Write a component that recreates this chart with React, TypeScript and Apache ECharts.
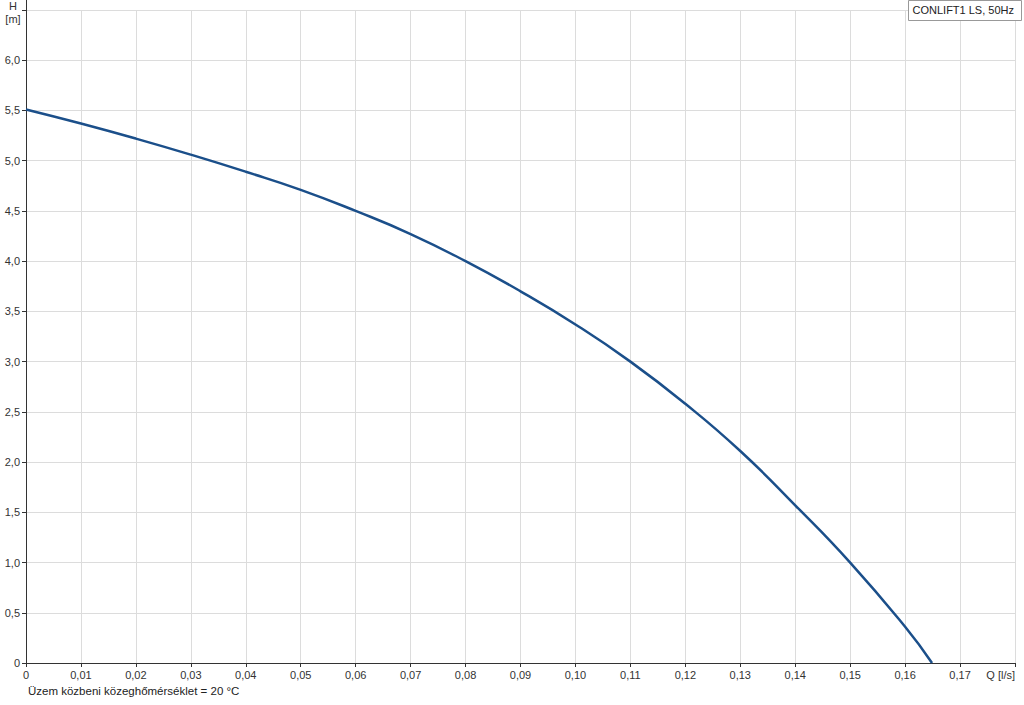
import React, { useEffect, useRef } from "react";
import * as echarts from "echarts";

const flowQ = [0, 0.01, 0.02, 0.03, 0.04, 0.05, 0.06, 0.07, 0.08, 0.09, 0.1, 0.11, 0.12, 0.13, 0.14, 0.15, 0.16, 0.1649];
const headH = [5.51, 5.37, 5.22, 5.06, 4.89, 4.71, 4.5, 4.27, 4.0, 3.7, 3.37, 3.0, 2.58, 2.11, 1.57, 1.0, 0.36, 0];
const legendText = "CONLIFT1 LS, 50Hz";
const footnote = "Üzem közbeni közeghőmérséklet = 20 °C";
const xName = "Q [l/s]";
const yNameTop = "H";
const yNameUnit = "[m]";

const fmt = (v: number, d: number) => (v === 0 ? "0" : v.toFixed(d).replace(".", ","));

export default function App() {
  const ref = useRef<HTMLDivElement>(null);
  useEffect(() => {
    if (!ref.current) return;
    const chart = echarts.init(ref.current, null, { renderer: "svg" });
    const font = "Liberation Sans, Arial, sans-serif";
    chart.setOption({
      animation: false,
      textStyle: { fontFamily: font },
      grid: { left: 26, right: 9, top: 10, bottom: 42, outerBoundsMode: "none", containLabel: false },
      xAxis: {
        type: "value",
        min: 0,
        max: 0.18,
        interval: 0.01,
        axisLine: { show: true, lineStyle: { color: "#333", width: 1 } },
        axisTick: { show: true, length: 4, lineStyle: { color: "#333" } },
        axisLabel: {
          color: "#333",
          fontSize: 11,
          fontFamily: font,
          margin: 6,
          alignMaxLabel: "right",
          formatter: (v: number) => (Math.abs(v - 0.18) < 1e-9 ? xName : fmt(v, 2)),
        },
        splitLine: { show: true, lineStyle: { color: "#dcdcdc", width: 1 } },
      },
      yAxis: {
        type: "value",
        min: 0,
        max: 6.5,
        interval: 0.5,
        axisLine: { show: true, lineStyle: { color: "#333", width: 1 } },
        axisTick: { show: true, length: 4, lineStyle: { color: "#333" } },
        axisLabel: {
          color: "#333",
          fontSize: 11,
          fontFamily: font,
          margin: 6,
          formatter: (v: number) => (Math.abs(v - 6.5) < 1e-9 ? "" : fmt(v, 1)),
        },
        splitLine: { show: true, lineStyle: { color: "#dcdcdc", width: 1 } },
      },
      series: [
        {
          type: "line",
          data: flowQ.map((q, i) => [q, headH[i]]),
          smooth: true,
          showSymbol: false,
          lineStyle: { color: "#1b4f8a", width: 2.5 },
        },
      ],
      graphic: [
        {
          type: "line",
          z: 100,
          shape: { x1: 26.5, y1: 0, x2: 26.5, y2: 10 },
          style: { stroke: "#333", lineWidth: 1 },
        },
        {
          type: "text",
          z: 100,
          x: 13,
          y: 0,
          style: { text: yNameTop, fontSize: 11, fontFamily: font, fill: "#333", align: "center", verticalAlign: "top" },
        },
        {
          type: "text",
          z: 100,
          x: 13,
          y: 13,
          style: { text: yNameUnit, fontSize: 11, fontFamily: font, fill: "#333", align: "center", verticalAlign: "top" },
        },
        {
          type: "rect",
          z: 100,
          right: 2,
          top: 0,
          shape: { width: 113, height: 20 },
          style: { fill: "#fff", stroke: "#999", lineWidth: 1 },
        },
        {
          type: "text",
          z: 101,
          right: 10,
          top: 4,
          style: { text: legendText, fontSize: 11, fontFamily: font, fill: "#222" },
        },
        {
          type: "text",
          z: 100,
          left: 28,
          top: 685,
          style: { text: footnote, fontSize: 11.5, fontFamily: font, fill: "#222" },
        },
      ],
    });
    return () => chart.dispose();
  }, []);
  return <div ref={ref} style={{ width: 1024, height: 705, position: "absolute", left: 0, top: 0 }} />;
}
